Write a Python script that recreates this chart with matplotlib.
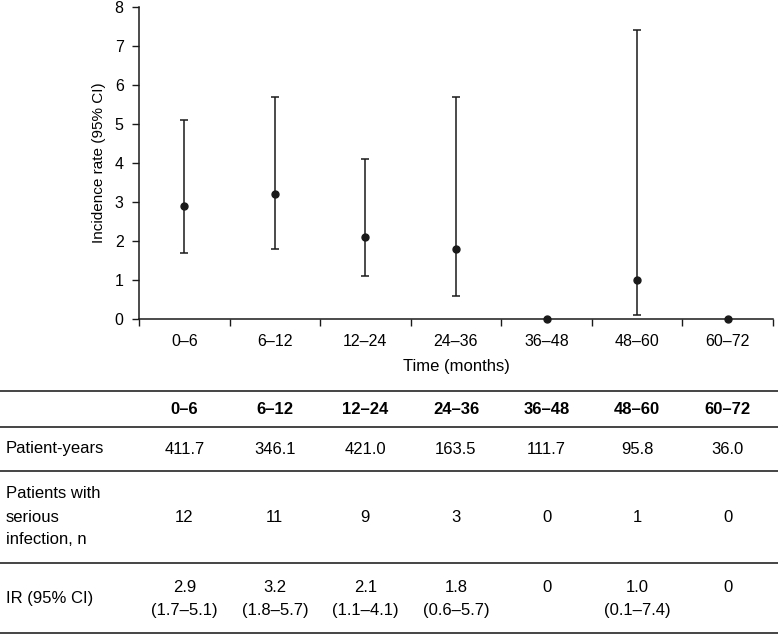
import numpy as np
import matplotlib.pyplot as plt
import matplotlib.transforms as mtransforms
from matplotlib.lines import Line2D

plt.rcParams['font.family'] = ['Liberation Sans', 'DejaVu Sans']

# data
periods = ['0–6', '6–12', '12–24', '24–36', '36–48', '48–60', '60–72']
ir = [2.9, 3.2, 2.1, 1.8, 0.0, 1.0, 0.0]
ci_lo = [1.7, 1.8, 1.1, 0.6, np.nan, 0.1, np.nan]
ci_hi = [5.1, 5.7, 4.1, 5.7, np.nan, 7.4, np.nan]
patient_years = ['411.7', '346.1', '421.0', '163.5', '111.7', '95.8', '36.0']
n_infection = ['12', '11', '9', '3', '0', '1', '0']
ir_text = ['2.9', '3.2', '2.1', '1.8', '0', '1.0', '0']
ci_text = ['(1.7–5.1)', '(1.8–5.7)', '(1.1–4.1)', '(0.6–5.7)', '', '(0.1–7.4)', '']

W, H = 778, 634
fig = plt.figure(figsize=(W / 100, H / 100), dpi=100)


def fy(py):
    # pixel row -> figure fraction
    return 1 - py / H


ax = fig.add_axes([139 / W, fy(319), (773 - 139) / W, (319 - 7) / H])

x = np.arange(len(periods))
ir = np.array(ir)
lo = np.array(ci_lo)
hi = np.array(ci_hi)
has_ci = ~np.isnan(lo)
col = '#1a1a1a'

ax.errorbar(x[has_ci], ir[has_ci], yerr=[ir[has_ci] - lo[has_ci], hi[has_ci] - ir[has_ci]],
            fmt='none', ecolor=col, elinewidth=1.1, capsize=3, capthick=1.1)
ax.plot(x, ir, 'o', color=col, markersize=5, clip_on=False, zorder=5)

ax.set_xlim(-0.5, len(periods) - 0.5)
ax.set_ylim(0, 8)
ax.set_yticks(range(0, 9))
ax.set_xticks(x)
ax.set_xticklabels(periods)
ax.set_xticks(np.arange(-0.5, len(periods)), minor=True)
ax.tick_params(axis='x', which='major', length=0, pad=11, labelsize=11.5)
ax.tick_params(axis='x', which='minor', length=5, width=1, color=col)
ax.tick_params(axis='y', length=5, width=1, color=col, labelsize=11.5, pad=6)
for s in ['top', 'right']:
    ax.spines[s].set_visible(False)
for s in ['left', 'bottom']:
    ax.spines[s].set_linewidth(1.1)
    ax.spines[s].set_color(col)
ax.set_ylabel('Incidence rate (95% CI)', fontsize=11, labelpad=6)
ax.set_xlabel('Time (months)', fontsize=12, labelpad=7)

# table below the plot, columns aligned with plot categories
tr = mtransforms.blended_transform_factory(ax.transData, fig.transFigure)
for py in [390.5, 426.5, 470.5, 562.5, 632.5]:
    fig.add_artist(Line2D([0, 1], [fy(py), fy(py)], transform=fig.transFigure,
                          color='#444444', lw=1.4))

fs = 12
lx = 6 / W
fig.text(lx, fy(449), 'Patient-years', fontsize=fs, va='center')
for i, line in enumerate(['Patients with', 'serious', 'infection, n']):
    fig.text(lx, fy(494 + 23 * i), line, fontsize=fs, va='center')
fig.text(lx, fy(599), 'IR (95% CI)', fontsize=fs, va='center')

for i in range(len(periods)):
    fig.text(x[i], fy(409), periods[i], transform=tr, fontsize=fs, fontweight='bold',
             ha='center', va='center')
    fig.text(x[i], fy(449), patient_years[i], transform=tr, fontsize=fs, ha='center', va='center')
    fig.text(x[i], fy(517), n_infection[i], transform=tr, fontsize=fs, ha='center', va='center')
    fig.text(x[i], fy(587), ir_text[i], transform=tr, fontsize=fs, ha='center', va='center')
    if ci_text[i]:
        fig.text(x[i], fy(610), ci_text[i], transform=tr, fontsize=fs, ha='center', va='center')

fig.savefig('out.png', dpi=100)
